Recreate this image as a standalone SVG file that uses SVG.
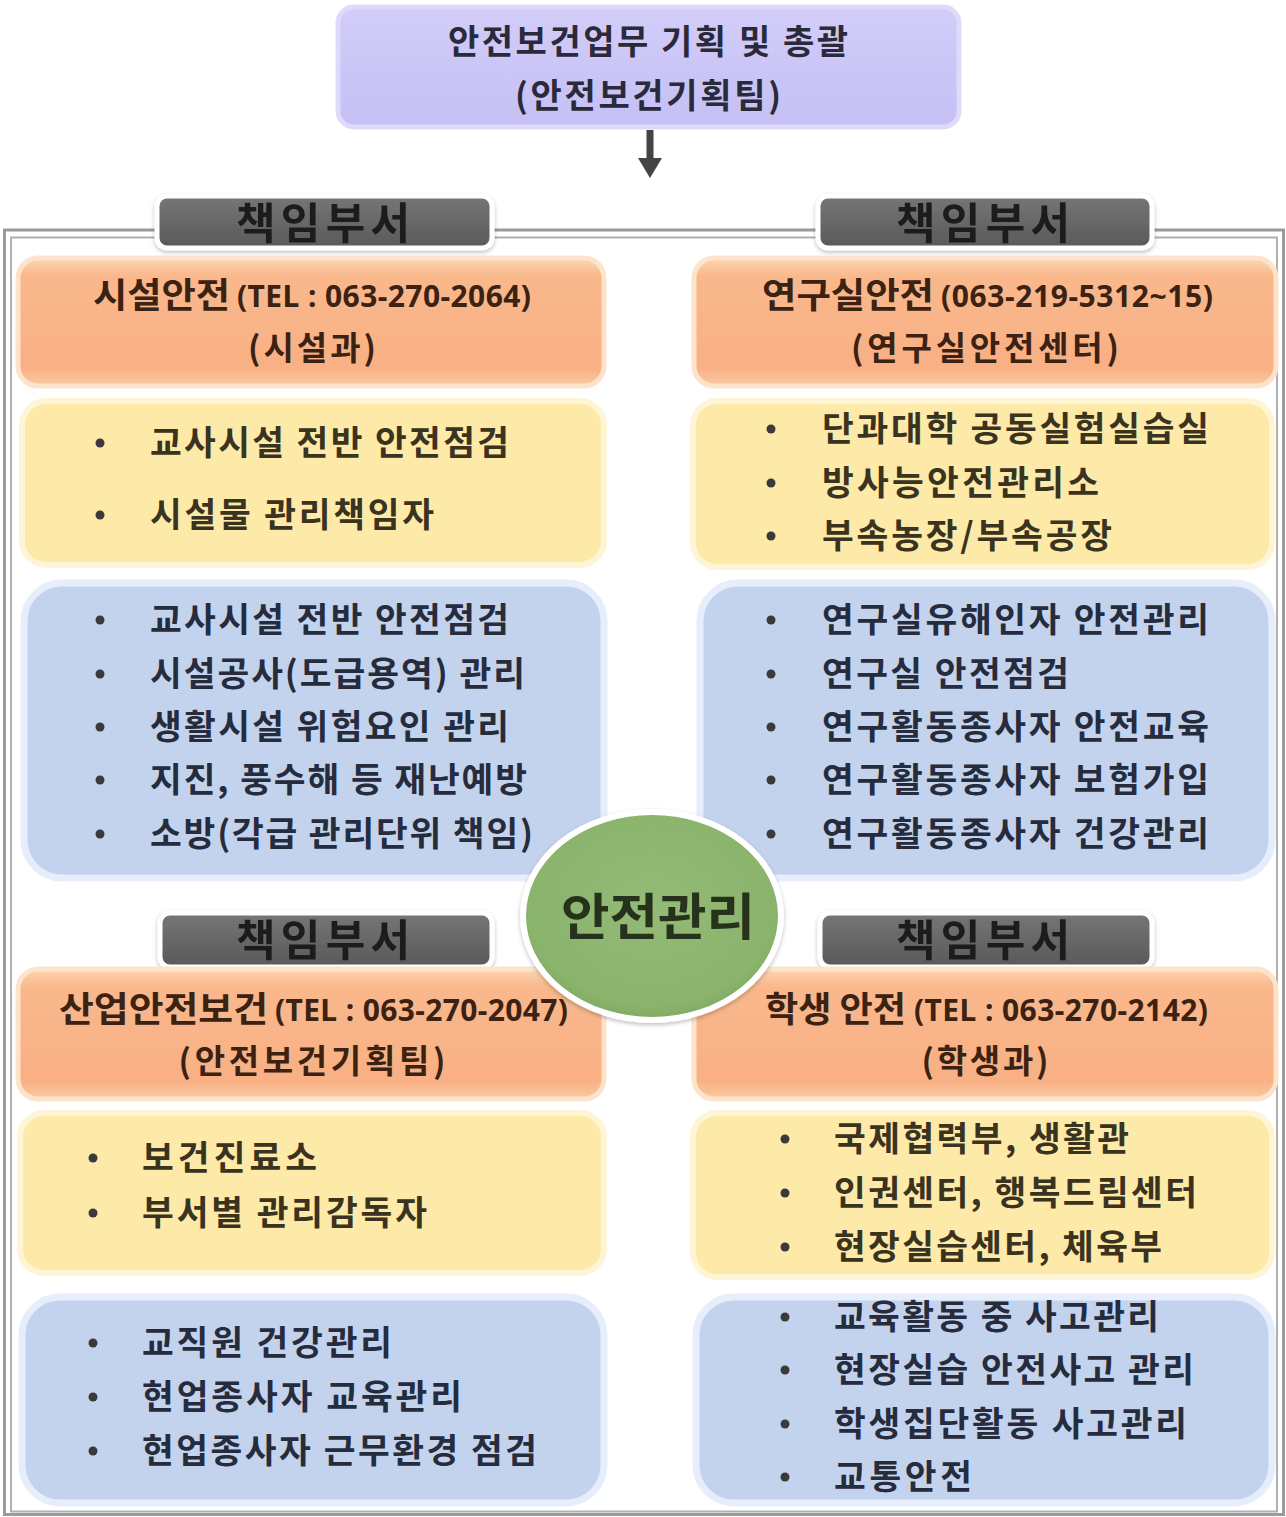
<svg xmlns="http://www.w3.org/2000/svg" width="1286" height="1517" viewBox="0 0 1286 1517">
<defs>
<linearGradient id="gOrange" x1="0" y1="0" x2="0" y2="1">
<stop offset="0" stop-color="#fdd6b2"/><stop offset="0.14" stop-color="#f9b88c"/><stop offset="0.86" stop-color="#f8b084"/><stop offset="1" stop-color="#fbcaa2"/>
</linearGradient>
<linearGradient id="gTab" x1="0" y1="0" x2="0" y2="1">
<stop offset="0" stop-color="#767676"/><stop offset="1" stop-color="#595959"/>
</linearGradient>
<linearGradient id="gTop" x1="0" y1="0" x2="0" y2="1">
<stop offset="0" stop-color="#d2cdf8"/><stop offset="1" stop-color="#c5bff5"/>
</linearGradient>
<radialGradient id="gGreen" cx="0.5" cy="0.45" r="0.6">
<stop offset="0" stop-color="#93bb76"/><stop offset="0.8" stop-color="#8ab36c"/><stop offset="1" stop-color="#7aa35e"/>
</radialGradient>
<filter id="sh" x="-10%" y="-20%" width="120%" height="150%">
<feDropShadow dx="0" dy="2" stdDeviation="2" flood-color="#000" flood-opacity="0.25"/>
</filter>
</defs>
<style>
text{font-family:"Noto Sans CJK KR","Noto Sans",sans-serif;font-weight:bold;}
.title{font-size:34px;fill:#2b2a3a;}
.tab{font-size:43px;fill:#1c1c1c;}
.hd{font-size:35px;fill:#3b2212;}
.hd2{font-size:33px;fill:#3b2212;}
.tel{font-family:"Noto Sans","Liberation Sans",sans-serif;font-size:30px;fill:#3b2212;}
.it{font-size:34.5px;}
.yt{fill:#3a3320;}
.bt{fill:#262c3c;}
.bul{fill:#3a3a3a;}
.orange{fill:url(#gOrange);stroke:#fde3cb;stroke-width:5;}
.yellow{fill:#fde9a8;stroke:#fef5d6;stroke-width:6;}
.blue{fill:#c3d3ee;stroke:#e6eefb;stroke-width:7;}
.tabr{fill:url(#gTab);stroke:#ffffff;stroke-width:5;}
</style>
<rect x="0" y="0" width="1286" height="1517" fill="#ffffff"/>
<g id="frame" fill="none">
<rect x="4.5" y="230" width="1279" height="1284.5" stroke="#9a9a9a" stroke-width="3"/>
<rect x="11" y="237.5" width="1266" height="1274" stroke="#b0b0b0" stroke-width="2"/>
</g>
<g id="connectors">
<line x1="650" y1="130" x2="650" y2="160" stroke="#444" stroke-width="7"/>
<path d="M638,158 L662,158 L650,178 z" fill="#444"/>
</g>
<g id="top">
<rect x="338" y="7" width="621" height="120" rx="16" fill="url(#gTop)" stroke="#dedafb" stroke-width="5"/>
<text class="title" x="648" y="54" text-anchor="middle" textLength="400" lengthAdjust="spacing">안전보건업무 기획 및 총괄</text>
<text class="title" x="648" y="108" text-anchor="middle" textLength="266" lengthAdjust="spacing">(안전보건기획팀)</text>
</g>
<g id="tab-tl" filter="url(#sh)"><rect class="tabr" x="157" y="196" width="335" height="52" rx="10"/><text class="tab" x="323" y="239" text-anchor="middle" textLength="174" lengthAdjust="spacing">책임부서</text></g>
<g id="tab-tr" filter="url(#sh)"><rect class="tabr" x="818" y="196" width="334" height="52" rx="10"/><text class="tab" x="983" y="239" text-anchor="middle" textLength="174" lengthAdjust="spacing">책임부서</text></g>
<g id="tab-bl" filter="url(#sh)"><rect class="tabr" x="160" y="913" width="332" height="54" rx="10"/><text class="tab" x="323" y="956" text-anchor="middle" textLength="174" lengthAdjust="spacing">책임부서</text></g>
<g id="tab-br" filter="url(#sh)"><rect class="tabr" x="820" y="913" width="332" height="54" rx="10"/><text class="tab" x="983" y="956" text-anchor="middle" textLength="174" lengthAdjust="spacing">책임부서</text></g>
<g id="dept-tl"><rect class="orange" x="18" y="258" width="586" height="128" rx="20"/>
<text class="hd" x="93" y="308" textLength="137" lengthAdjust="spacingAndGlyphs">시설안전</text>
<text class="tel" x="237" y="307" textLength="294" lengthAdjust="spacing">(TEL : 063-270-2064)</text>
<text class="hd2" x="312" y="360" text-anchor="middle" textLength="128" lengthAdjust="spacing">(시설과)</text></g>
<g id="dept-tr"><rect class="orange" x="694" y="258" width="582" height="128" rx="20"/>
<text class="hd" x="762" y="308" textLength="172" lengthAdjust="spacingAndGlyphs">연구실안전</text>
<text class="tel" x="941" y="307" textLength="272" lengthAdjust="spacing">(063-219-5312~15)</text>
<text class="hd2" x="985" y="360" text-anchor="middle" textLength="268" lengthAdjust="spacing">(연구실안전센터)</text></g>
<g id="dept-bl"><rect class="orange" x="18" y="969" width="586" height="130" rx="20"/>
<text class="hd" x="59" y="1022" textLength="209" lengthAdjust="spacingAndGlyphs">산업안전보건</text>
<text class="tel" x="275" y="1021" textLength="293" lengthAdjust="spacing">(TEL : 063-270-2047)</text>
<text class="hd2" x="312" y="1073" text-anchor="middle" textLength="267" lengthAdjust="spacing">(안전보건기획팀)</text></g>
<g id="dept-br"><rect class="orange" x="694" y="969" width="582" height="130" rx="20"/>
<text class="hd" x="765" y="1022" textLength="141" lengthAdjust="spacingAndGlyphs">학생 안전</text>
<text class="tel" x="914" y="1021" textLength="294" lengthAdjust="spacing">(TEL : 063-270-2142)</text>
<text class="hd2" x="985" y="1073" text-anchor="middle" textLength="127" lengthAdjust="spacing">(학생과)</text></g>
<g id="yel-tl"><rect class="yellow" x="22" y="401" width="582" height="164" rx="24"/>
<circle class="bul" cx="100" cy="443" r="4.5"/><text class="it yt" x="150" y="455" textLength="359" lengthAdjust="spacing">교사시설 전반 안전점검</text>
<circle class="bul" cx="100" cy="515" r="4.5"/><text class="it yt" x="150" y="527" textLength="284" lengthAdjust="spacing">시설물 관리책임자</text></g>
<g id="yel-tr"><rect class="yellow" x="693" y="401" width="579" height="166" rx="24"/>
<circle class="bul" cx="771" cy="429" r="4.5"/><text class="it yt" x="822" y="441" textLength="387" lengthAdjust="spacing">단과대학 공동실험실습실</text>
<circle class="bul" cx="771" cy="483" r="4.5"/><text class="it yt" x="822" y="495" textLength="277" lengthAdjust="spacing">방사능안전관리소</text>
<circle class="bul" cx="771" cy="536" r="4.5"/><text class="it yt" x="822" y="548" textLength="290" lengthAdjust="spacing">부속농장/부속공장</text></g>
<g id="yel-bl"><rect class="yellow" x="20" y="1113" width="584" height="160" rx="24"/>
<circle class="bul" cx="93" cy="1158" r="4.5"/><text class="it yt" x="142" y="1170" textLength="175" lengthAdjust="spacing">보건진료소</text>
<circle class="bul" cx="93" cy="1213" r="4.5"/><text class="it yt" x="142" y="1225" textLength="285" lengthAdjust="spacing">부서별 관리감독자</text></g>
<g id="yel-br"><rect class="yellow" x="693" y="1113" width="579" height="164" rx="24"/>
<circle class="bul" cx="785" cy="1139" r="4.5"/><text class="it yt" x="834" y="1151" textLength="295" lengthAdjust="spacing">국제협력부, 생활관</text>
<circle class="bul" cx="785" cy="1193" r="4.5"/><text class="it yt" x="834" y="1205" textLength="363" lengthAdjust="spacing">인권센터, 행복드림센터</text>
<circle class="bul" cx="785" cy="1247" r="4.5"/><text class="it yt" x="834" y="1259" textLength="328" lengthAdjust="spacing">현장실습센터, 체육부</text></g>
<g id="blu-tl"><rect class="blue" x="24" y="583" width="580" height="295" rx="38"/>
<circle class="bul" cx="100" cy="620" r="4.5"/><text class="it bt" x="150" y="632" textLength="359" lengthAdjust="spacing">교사시설 전반 안전점검</text>
<circle class="bul" cx="100" cy="674" r="4.5"/><text class="it bt" x="150" y="686" textLength="375" lengthAdjust="spacing">시설공사(도급용역) 관리</text>
<circle class="bul" cx="100" cy="727" r="4.5"/><text class="it bt" x="150" y="739" textLength="359" lengthAdjust="spacing">생활시설 위험요인 관리</text>
<circle class="bul" cx="100" cy="780" r="4.5"/><text class="it bt" x="150" y="792" textLength="377" lengthAdjust="spacing">지진, 풍수해 등 재난예방</text>
<circle class="bul" cx="100" cy="834" r="4.5"/><text class="it bt" x="150" y="846" textLength="383" lengthAdjust="spacing">소방(각급 관리단위 책임)</text></g>
<g id="blu-tr"><rect class="blue" x="700" y="583" width="572" height="295" rx="38"/>
<circle class="bul" cx="771" cy="620" r="4.5"/><text class="it bt" x="822" y="632" textLength="387" lengthAdjust="spacing">연구실유해인자 안전관리</text>
<circle class="bul" cx="771" cy="674" r="4.5"/><text class="it bt" x="822" y="686" textLength="247" lengthAdjust="spacing">연구실 안전점검</text>
<circle class="bul" cx="771" cy="727" r="4.5"/><text class="it bt" x="822" y="739" textLength="387" lengthAdjust="spacing">연구활동종사자 안전교육</text>
<circle class="bul" cx="771" cy="780" r="4.5"/><text class="it bt" x="822" y="792" textLength="387" lengthAdjust="spacing">연구활동종사자 보험가입</text>
<circle class="bul" cx="771" cy="834" r="4.5"/><text class="it bt" x="822" y="846" textLength="387" lengthAdjust="spacing">연구활동종사자 건강관리</text></g>
<g id="blu-bl"><rect class="blue" x="22" y="1297" width="582" height="206" rx="38"/>
<circle class="bul" cx="93" cy="1343" r="4.5"/><text class="it bt" x="142" y="1355" textLength="250" lengthAdjust="spacing">교직원 건강관리</text>
<circle class="bul" cx="93" cy="1397" r="4.5"/><text class="it bt" x="142" y="1409" textLength="320" lengthAdjust="spacing">현업종사자 교육관리</text>
<circle class="bul" cx="93" cy="1451" r="4.5"/><text class="it bt" x="142" y="1463" textLength="395" lengthAdjust="spacing">현업종사자 근무환경 점검</text></g>
<g id="blu-br"><rect class="blue" x="696" y="1297" width="576" height="206" rx="38"/>
<circle class="bul" cx="785" cy="1317" r="4.5"/><text class="it bt" x="834" y="1329" textLength="325" lengthAdjust="spacing">교육활동 중 사고관리</text>
<circle class="bul" cx="785" cy="1370" r="4.5"/><text class="it bt" x="834" y="1382" textLength="360" lengthAdjust="spacing">현장실습 안전사고 관리</text>
<circle class="bul" cx="785" cy="1424" r="4.5"/><text class="it bt" x="834" y="1436" textLength="353" lengthAdjust="spacing">학생집단활동 사고관리</text>
<circle class="bul" cx="785" cy="1477" r="4.5"/><text class="it bt" x="834" y="1489" textLength="138" lengthAdjust="spacing">교통안전</text></g>
<g id="center" filter="url(#sh)">
<ellipse cx="652" cy="916" rx="129" ry="104" fill="url(#gGreen)" stroke="#ffffff" stroke-width="6"/>
<text x="658" y="935" text-anchor="middle" font-size="50" fill="#25331c" textLength="194" lengthAdjust="spacingAndGlyphs">안전관리</text>
</g>
</svg>
